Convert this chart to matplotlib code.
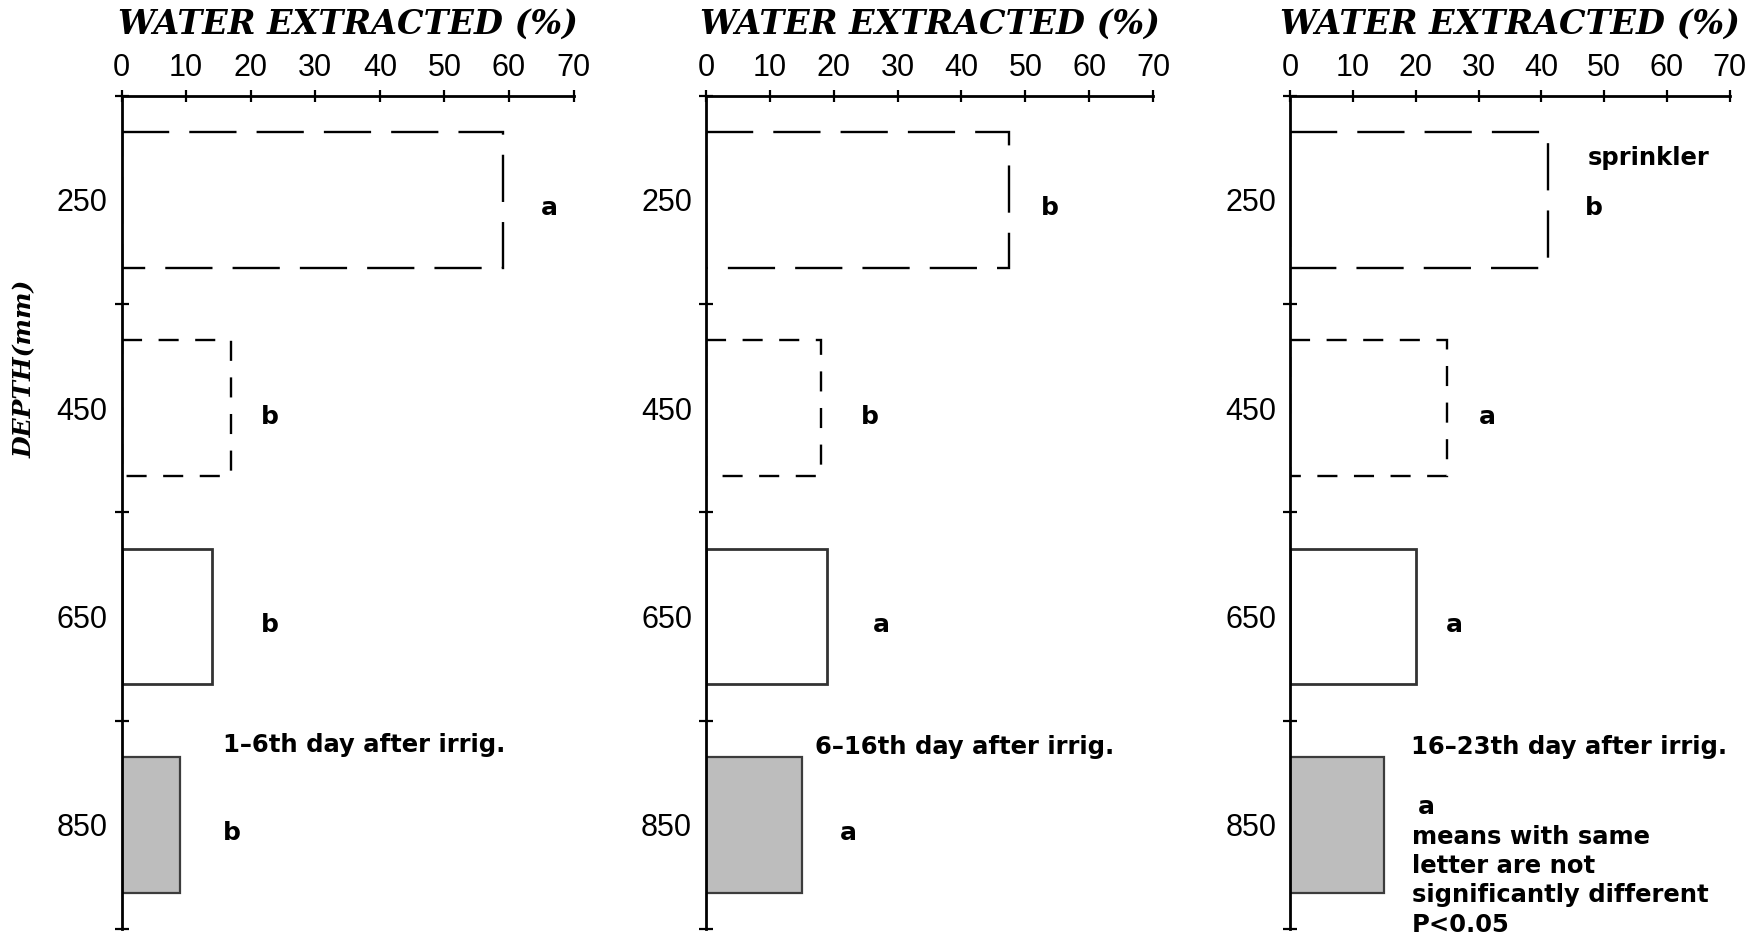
import matplotlib
matplotlib.use('Agg')
import matplotlib.pyplot as plt

plt.rcParams['font.family'] = ['Liberation Sans', 'DejaVu Sans']

# data
depths = [250, 450, 650, 850]          # depth of layer centre (mm)
layer_mm = 130                          # thickness drawn for each layer
pct_p1 = [59, 17, 14, 9]               # 1-6th day
pct_p2 = [47.5, 18, 19, 15]            # 6-16th day
pct_p3 = [41, 25, 20, 15]              # 16-23th day
letters_p1 = ['a', 'b', 'b', 'b']
letters_p2 = ['b', 'b', 'a', 'a']
letters_p3 = ['b', 'a', 'a', 'a']
periods = ['1–6th day after irrig.', '6–16th day after irrig.', '16–23th day after irrig.']
xticks = [0, 10, 20, 30, 40, 50, 60, 70]

# one style per depth layer
bar_styles = [
    dict(fill=False, ec='black', lw=1.7, ls=(0, (20, 8.5))),
    dict(fill=False, ec='black', lw=1.7, ls=(0, (8.5, 7))),
    dict(fill=False, ec='#333333', lw=2.0, ls='-'),
    dict(fill=True, fc='#bdbdbd', ec='#3c3c3c', lw=1.6, ls='-'),
]

ann = {'family': 'DejaVu Sans', 'weight': 'bold', 'size': 17.5}
let_font = {'family': 'DejaVu Sans', 'weight': 'bold', 'size': 18}

fig = plt.figure(figsize=(17.65, 9.34), dpi=100)

panels = [
    (0.0689, 0.2561, pct_p1, letters_p1, [65, 21.5, 21.5, 15.7], (15.7, 773)),
    (0.4000, 0.2533, pct_p2, letters_p2, [52.4, 24.2, 26.2, 20.9], (17.0, 775)),
    (0.7310, 0.2490, pct_p3, letters_p3, [46.9, 30.0, 24.8, 20.3], (19.2, 775)),
]

for i, (left, width, vals, lets, let_x, txt_xy) in enumerate(panels):
    ax = fig.add_axes([left, 0.0054, width, 0.8921])
    bars = ax.barh(depths, vals, height=layer_mm, left=0, align='center')
    for b, st in zip(bars, bar_styles):
        b.set_fill(st['fill'])
        if st['fill']:
            b.set_facecolor(st['fc'])
        b.set_edgecolor(st['ec'])
        b.set_linewidth(st['lw'])
        b.set_linestyle(st['ls'])

    ax.set_xlim(0, 70)
    ax.set_ylim(950, 150)
    ax.xaxis.tick_top()
    ax.set_xticks(xticks)
    ax.tick_params(axis='x', direction='inout', length=9, width=1.6, labelsize=22, pad=5)
    ax.set_yticks(depths)
    ax.tick_params(axis='y', which='major', length=0, labelsize=22, pad=10)
    ax.set_yticks([150, 350, 550, 750, 950], minor=True)
    ax.tick_params(axis='y', which='minor', direction='inout', length=10, width=1.6)
    for s in ['right', 'bottom']:
        ax.spines[s].set_visible(False)
    for s in ['left', 'top']:
        ax.spines[s].set_linewidth(2.0)

    # significance letters
    for j in range(len(depths)):
        y = depths[j] + 8
        if i == 2 and j == 3:
            y = 833
        ax.text(let_x[j], y, lets[j], ha='left', va='center', **let_font)

    ax.text(txt_xy[0], txt_xy[1], periods[i], ha='left', va='center', **ann)

    fig.text(left + width / 2, 0.974, 'WATER EXTRACTED (%)', ha='center', va='center',
             family='DejaVu Serif', style='italic', weight='bold', size=24)

    if i == 2:
        ax.text(47.4, 210, 'sprinkler', ha='left', va='center', **ann)
        ax.text(19.4, 850, 'means with same\nletter are not\nsignificantly different\nP<0.05',
                ha='left', va='top', linespacing=1.28, clip_on=False, **ann)

fig.text(25 / 1765, 0.605, 'DEPTH(mm)', rotation=90, ha='center', va='center',
         family='DejaVu Serif', style='italic', weight='bold', size=18)

fig.savefig('out.png', dpi=100)
